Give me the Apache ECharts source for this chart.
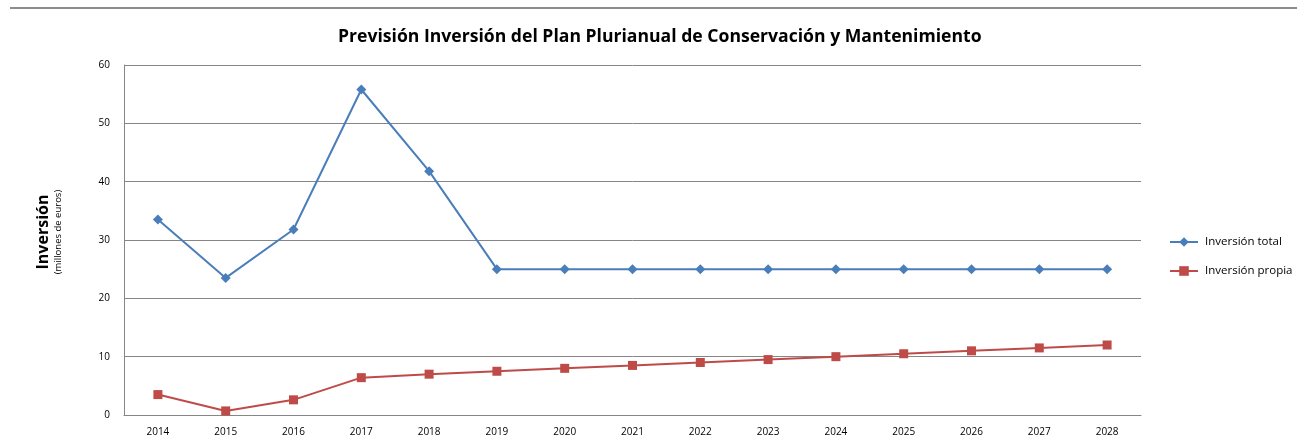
<!DOCTYPE html>
<html>
<head>
<meta charset="utf-8">
<script src="https://cdn.jsdelivr.net/npm/echarts@6/dist/echarts.min.js"></script>
<style>
  html, body { margin: 0; padding: 0; background: #fff; }
  #chart { width: 1297px; height: 439px; }
</style>
</head>
<body>
<div id="chart"></div>
<script>
  // datos
  var years = ['2014', '2015', '2016', '2017', '2018', '2019', '2020', '2021', '2022', '2023', '2024', '2025', '2026', '2027', '2028'];
  var inversionTotal = [33.5, 23.5, 31.8, 55.8, 41.8, 25, 25, 25, 25, 25, 25, 25, 25, 25, 25];
  var inversionPropia = [3.5, 0.7, 2.6, 6.4, 7, 7.5, 8, 8.5, 9, 9.5, 10, 10.5, 11, 11.5, 12];

  var chart = echarts.init(document.getElementById('chart'));
  var option = {
    backgroundColor: '#fff',
    animation: false,
    title: {
      text: 'Previsión Inversión del Plan Plurianual de Conservación y Mantenimiento',
      left: 333,
      top: 23,
      textStyle: {
        fontFamily: 'Open Sans',
        fontSize: 17.6,
        fontWeight: 'bold',
        color: '#000'
      }
    },
    graphic: [
      {
        type: 'line',
        shape: {x1: 10, y1: 8, x2: 1297, y2: 8},
        style: {stroke: '#8c8c8c', lineWidth: 2}
      }
    ],
    legend: {
      orient: 'vertical',
      left: 1164,
      top: 231,
      itemGap: 17,
      itemWidth: 28,
      itemHeight: 12,
      textStyle: {fontFamily: 'Open Sans', fontSize: 11.5, color: '#000', padding: [0, 0, 0, 2]},
      data: ['Inversión total', 'Inversión propia']
    },
    grid: {
      left: 124,
      right: 156,
      top: 65,
      bottom: 24
    },
    xAxis: {
      type: 'category',
      data: years,
      boundaryGap: true,
      axisLine: {lineStyle: {color: '#868686', width: 1}},
      axisTick: {show: false},
      axisLabel: {fontFamily: 'Open Sans', fontSize: 10, color: '#000', margin: 12}
    },
    yAxis: {
      type: 'value',
      min: 0,
      max: 60,
      interval: 10,
      name: '{a|Inversión}\n{b|(millones de euros)}',
      nameLocation: 'middle',
      nameRotate: 90,
      nameGap: 60,
      nameTextStyle: {
        padding: [0, 0, 0, 16],
        rich: {
          a: {fontFamily: 'Open Sans', fontSize: 16, fontWeight: 'bold', color: '#000', lineHeight: 18},
          b: {fontFamily: 'Open Sans', fontSize: 9.5, color: '#000', lineHeight: 12}
        }
      },
      axisLine: {show: true, lineStyle: {color: '#868686', width: 1}},
      axisTick: {show: false},
      axisLabel: {fontFamily: 'Open Sans', fontSize: 10, color: '#000', margin: 14},
      splitLine: {lineStyle: {color: '#868686', width: 1}}
    },
    series: [
      {
        name: 'Inversión total',
        type: 'line',
        data: inversionTotal,
        symbol: 'diamond',
        symbolSize: 10,
        color: '#4A7EBB',
        lineStyle: {width: 2, color: '#4A7EBB'},
        itemStyle: {color: '#4A7EBB'}
      },
      {
        name: 'Inversión propia',
        type: 'line',
        data: inversionPropia,
        symbol: 'rect',
        symbolSize: 9,
        color: '#BE4B48',
        lineStyle: {width: 2, color: '#BE4B48'},
        itemStyle: {color: '#BE4B48'}
      }
    ]
  };
  chart.setOption(option);
</script>
</body>
</html>
